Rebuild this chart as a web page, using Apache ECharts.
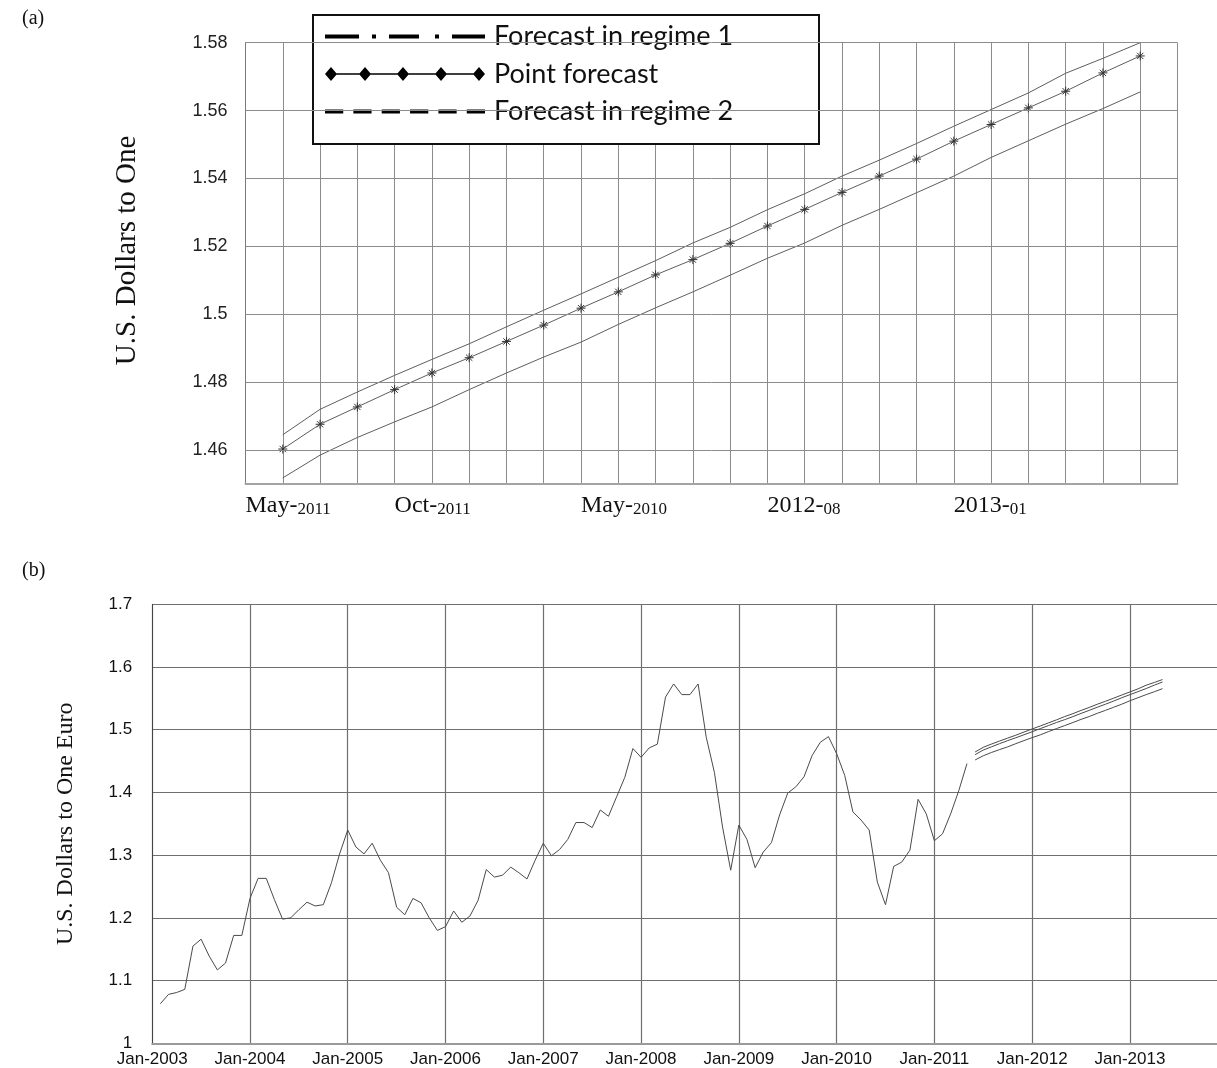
<!DOCTYPE html>
<html>
<head>
<meta charset="utf-8">
<script src="https://cdn.jsdelivr.net/npm/echarts@6/dist/echarts.min.js"></script>
<style>
  html, body { margin: 0; padding: 0; background: #fff; }
  #chart { width: 1217px; height: 1068px; }
</style>
</head>
<body>
<div id="chart"></div>
<script>
// ---------- Panel (a): two-year forecast window ----------
// Monthly slots; the first and last slot are empty padding around the 24 forecasts.
const forecastSlots = [
  '2011-04', '2011-05', '2011-06', '2011-07', '2011-08', '2011-09', '2011-10', '2011-11', '2011-12',
  '2012-01', '2012-02', '2012-03', '2012-04', '2012-05', '2012-06', '2012-07', '2012-08', '2012-09',
  '2012-10', '2012-11', '2012-12', '2013-01', '2013-02', '2013-03', '2013-04', '2013-05'
];
// Printed tick labels, aligned with forecastSlots ('' = no label)
const topTickLabels = [
  'May-2011', '', '', '', 'Oct-2011', '', '', '', '', 'May-2010', '', '', '', '',
  '2012-08', '', '', '', '', '2013-01', '', '', '', '', '', ''
];
// Horizontal reference lines of panel (a)
const topGridValues = [1.46, 1.48, 1.50, 1.52, 1.54, 1.56, 1.58];

// Forecasts, May-2011 .. Apr-2013 (USD per EUR)
const regime1Forecast = [
  1.4645, 1.4720, 1.4771, 1.4820, 1.4867, 1.4913, 1.4963, 1.5012, 1.5060, 1.5109, 1.5158, 1.5210,
  1.5256, 1.5308, 1.5355, 1.5407, 1.5454, 1.5503, 1.5554, 1.5603, 1.5652, 1.5710, 1.5754, 1.5800
];
const pointForecast = [
  1.4603, 1.4676, 1.4727, 1.4778, 1.4827, 1.4872, 1.4920, 1.4968, 1.5018, 1.5066, 1.5116, 1.5161,
  1.5209, 1.5260, 1.5309, 1.5359, 1.5407, 1.5457, 1.5510, 1.5559, 1.5608, 1.5657, 1.5711, 1.5761
];
const regime2Forecast = [
  1.4518, 1.4585, 1.4637, 1.4683, 1.4727, 1.4778, 1.4827, 1.4874, 1.4918, 1.4970, 1.5019, 1.5066,
  1.5115, 1.5165, 1.5210, 1.5262, 1.5309, 1.5358, 1.5407, 1.5462, 1.5511, 1.5560, 1.5606, 1.5655
];

// ---------- Panel (b): monthly history Jan-2003 .. Apr-2011 ----------
const historyRate = [
  1.063, 1.078, 1.081, 1.086, 1.155, 1.166, 1.139, 1.117, 1.128, 1.172, 1.172, 1.231,
  1.263, 1.263, 1.229, 1.198, 1.200, 1.213, 1.225, 1.219, 1.221, 1.256, 1.302, 1.340,
  1.313, 1.302, 1.319, 1.292, 1.272, 1.217, 1.205, 1.231, 1.224, 1.200, 1.180, 1.186,
  1.211, 1.193, 1.203, 1.228, 1.277, 1.265, 1.268, 1.281, 1.272, 1.262, 1.292, 1.319,
  1.299, 1.309, 1.325, 1.352, 1.352, 1.344, 1.372, 1.362, 1.393, 1.424, 1.470, 1.456,
  1.471, 1.477, 1.552, 1.573, 1.556, 1.556, 1.573, 1.488, 1.432, 1.345, 1.276, 1.348,
  1.325, 1.280, 1.305, 1.320, 1.364, 1.399, 1.409, 1.425, 1.459, 1.480, 1.489, 1.462,
  1.427, 1.369, 1.356, 1.340, 1.257, 1.221, 1.282, 1.289, 1.308, 1.389, 1.366, 1.323,
  1.334, 1.366, 1.403, 1.446
];
// Year tick labels of panel (b), one every 12 months
const yearLabels = [
  'Jan-2003', 'Jan-2004', 'Jan-2005', 'Jan-2006', 'Jan-2007', 'Jan-2008',
  'Jan-2009', 'Jan-2010', 'Jan-2011', 'Jan-2012', 'Jan-2013'
];
// Month offsets (months after the axis origin) of the first history / forecast value
const HISTORY_START = 1;
const FORECAST_START = HISTORY_START + historyRate.length;

// ---------- helpers ----------
const padSlots = arr => ['-'].concat(arr, ['-']);
const onMonths = (arr, start) => arr.map((v, k) => [start + k, v]);

const ASTERISK = 'path://M0 5H10M5 0V10M1.5 1.5L8.5 8.5M8.5 1.5L1.5 8.5';
const ICON_DASHDOT = 'path://M0 0h34v4h-34zM47 0h4v4h-4zM64 0h30v4h-30zM110 0h4v4h-4zM127 0h33v4h-33z';
const ICON_DIAMONDS = 'path://M6 6.3H154V7.7H6Z' +
  'M0 7L6 0L12 7L6 14Z' +
  'M34 7L40 0L46 7L40 14Z' +
  'M72 7L78 0L84 7L78 14Z' +
  'M110 7L116 0L122 7L116 14Z' +
  'M148 7L154 0L160 7L154 14Z';
const ICON_DASHED = 'path://M0 0h18v4h-18zM28 0h18v4h-18zM56 0h18v4h-18zM84 0h18v4h-18zM112 0h18v4h-18zM140 0h18v4h-18z';

const LINE_GREY = '#5e5e5e';
const GRID_GREY_A = '#8c8c8c';
const GRID_GREY_B = '#6f6f6f';

const chart = echarts.init(document.getElementById('chart'), null, { renderer: 'canvas' });

chart.setOption({
  animation: false,
  backgroundColor: '#fff',
  grid: [
    { left: 245.5, top: 42.7, width: 932, height: 441.3, containLabel: false, outerBoundsMode: 'none' },
    { left: 152.2, top: 604.3, width: 1075.5, height: 439, containLabel: false, outerBoundsMode: 'none' }
  ],
  legend: {
    orient: 'vertical',
    left: 325,
    top: 22.5,
    padding: 0,
    itemGap: 9.5,
    itemWidth: 160,
    itemHeight: 14,
    selectedMode: false,
    z: 5,
    textStyle: { fontFamily: 'Lato', fontSize: 27, color: '#111', lineHeight: 28, padding: [0, 0, 0, 4] },
    data: [
      { name: 'Forecast in regime 1', icon: ICON_DASHDOT, itemStyle: { color: '#000', borderWidth: 0 } },
      { name: 'Point forecast', icon: ICON_DIAMONDS, itemStyle: { color: '#000', borderWidth: 0 } },
      { name: 'Forecast in regime 2', icon: ICON_DASHED, itemStyle: { color: '#000', borderWidth: 0 } }
    ]
  },
  graphic: [
    { type: 'text', left: 22, top: 9, style: { text: '(a)', font: '20px "Liberation Serif"', fill: '#111' } },
    { type: 'text', left: 22, top: 561, style: { text: '(b)', font: '20px "Liberation Serif"', fill: '#111' } },
    { type: 'rect', z: 3, shape: { x: 313, y: 15, width: 506, height: 129 },
      style: { fill: '#fff', stroke: '#111', lineWidth: 2 } }
  ],
  xAxis: [
    {
      gridIndex: 0,
      type: 'category',
      data: forecastSlots,
      boundaryGap: false,
      axisLine: { show: true, lineStyle: { color: '#a3a3a3', width: 2 } },
      axisTick: { show: false },
      splitLine: { show: true, interval: 0, lineStyle: { color: GRID_GREY_A, width: 1 } },
      axisLabel: {
        interval: 0,
        align: 'left',
        margin: 8,
        formatter: (val, idx) => {
          const t = topTickLabels[idx];
          if (!t) return '';
          const cut = t.indexOf('-') + 1;
          return '{big|' + t.slice(0, cut) + '}{small|' + t.slice(cut) + '}';
        },
        rich: {
          big: { fontFamily: 'Liberation Serif', fontSize: 24, color: '#111', lineHeight: 26, verticalAlign: 'bottom' },
          small: { fontFamily: 'Liberation Serif', fontSize: 17, color: '#111', lineHeight: 22, verticalAlign: 'bottom' }
        }
      }
    },
    {
      gridIndex: 1,
      type: 'value',
      min: 0,
      max: 132,
      interval: 12,
      axisLine: { show: true, lineStyle: { color: '#9a9a9a', width: 2 } },
      axisTick: { show: false },
      splitLine: { show: true, lineStyle: { color: GRID_GREY_B, width: 1.2 } },
      axisLabel: {
        margin: 8,
        fontFamily: 'Liberation Sans',
        fontSize: 17,
        color: '#111',
        formatter: v => yearLabels[Math.round(v / 12)] || ''
      }
    }
  ],
  yAxis: [
    {
      gridIndex: 0,
      type: 'value',
      min: 1.45,
      max: 1.58,
      interval: 0.01,
      splitLine: { show: false },
      axisTick: { show: false },
      axisLine: { show: true, lineStyle: { color: '#7a7a7a', width: 1 } },
      axisLabel: {
        margin: 18,
        fontFamily: 'Liberation Sans',
        fontSize: 18,
        color: '#222',
        formatter: v => (Math.round(v * 100) % 2 === 0 ? String(+v.toFixed(2)) : '')
      },
      name: 'U.S. Dollars to One',
      nameLocation: 'middle',
      nameGap: 104,
      nameTextStyle: { fontFamily: 'Liberation Serif', fontSize: 29, color: '#111', padding: [0, 0, 0, 26] }
    },
    {
      gridIndex: 1,
      type: 'value',
      min: 1,
      max: 1.7,
      interval: 0.1,
      splitLine: { show: true, lineStyle: { color: GRID_GREY_B, width: 1.2 } },
      axisTick: { show: false },
      axisLine: { show: true, lineStyle: { color: '#444', width: 1 } },
      axisLabel: { margin: 20, fontFamily: 'Liberation Sans', fontSize: 17, color: '#111' },
      name: 'U.S. Dollars to One Euro',
      nameLocation: 'middle',
      nameGap: 74,
      nameTextStyle: { fontFamily: 'Liberation Serif', fontSize: 24, color: '#111' }
    }
  ],
  series: [
    // Panel (a)
    {
      name: 'Forecast in regime 1', type: 'line', xAxisIndex: 0, yAxisIndex: 0,
      data: padSlots(regime1Forecast), symbol: 'none', silent: true,
      itemStyle: { color: LINE_GREY },
      lineStyle: { color: LINE_GREY, width: 1 }
    },
    {
      name: 'Point forecast', type: 'line', xAxisIndex: 0, yAxisIndex: 0,
      data: padSlots(pointForecast), symbol: ASTERISK, symbolSize: 9, showSymbol: true, silent: true,
      itemStyle: { color: 'rgba(0,0,0,0)', borderColor: '#333', borderWidth: 1 },
      lineStyle: { color: LINE_GREY, width: 1 }
    },
    {
      name: 'Forecast in regime 2', type: 'line', xAxisIndex: 0, yAxisIndex: 0,
      data: padSlots(regime2Forecast), symbol: 'none', silent: true,
      itemStyle: { color: LINE_GREY },
      lineStyle: { color: LINE_GREY, width: 1 },
      markLine: {
        silent: true, symbol: 'none', animation: false,
        label: { show: false },
        lineStyle: { color: GRID_GREY_A, width: 1, type: 'solid' },
        data: topGridValues.map(v => ({ yAxis: v }))
      }
    },
    // Panel (b)
    {
      name: 'History', type: 'line', xAxisIndex: 1, yAxisIndex: 1,
      data: onMonths(historyRate, HISTORY_START), symbol: 'none', silent: true,
      lineStyle: { color: '#4a4a4a', width: 1 }
    },
    {
      name: 'Forecast in regime 1', type: 'line', xAxisIndex: 1, yAxisIndex: 1,
      data: onMonths(regime1Forecast, FORECAST_START), symbol: 'none', silent: true,
      itemStyle: { color: LINE_GREY },
      lineStyle: { color: '#4a4a4a', width: 1 }
    },
    {
      name: 'Point forecast', type: 'line', xAxisIndex: 1, yAxisIndex: 1,
      data: onMonths(pointForecast, FORECAST_START), symbol: 'none', silent: true,
      itemStyle: { color: LINE_GREY },
      lineStyle: { color: '#4a4a4a', width: 1 }
    },
    {
      name: 'Forecast in regime 2', type: 'line', xAxisIndex: 1, yAxisIndex: 1,
      data: onMonths(regime2Forecast, FORECAST_START), symbol: 'none', silent: true,
      itemStyle: { color: LINE_GREY },
      lineStyle: { color: '#4a4a4a', width: 1 }
    }
  ]
});
</script>
</body>
</html>
